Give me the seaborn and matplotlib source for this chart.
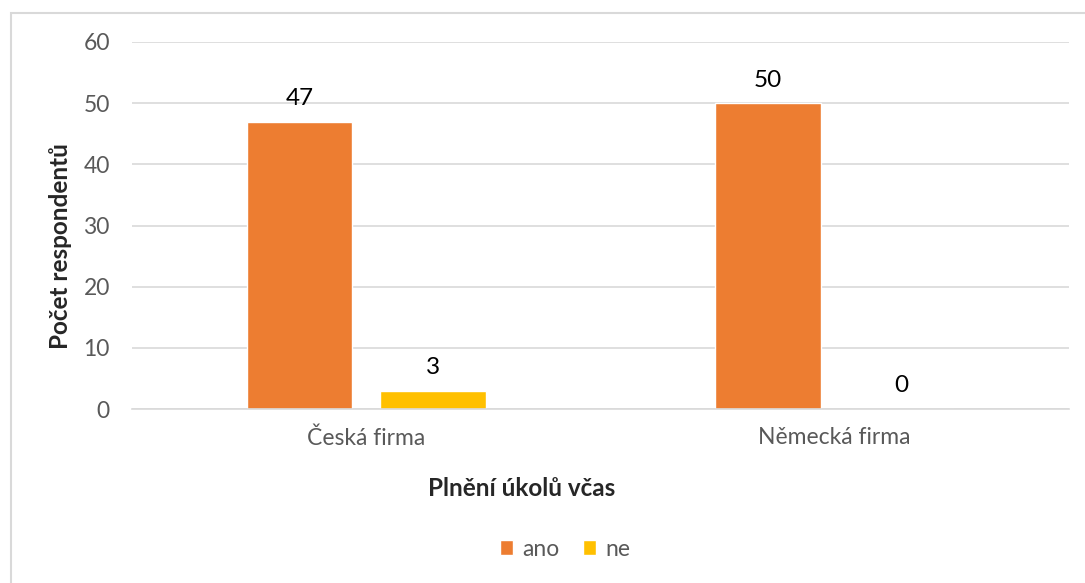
import pandas as pd
import matplotlib.pyplot as plt
import seaborn as sns
from matplotlib.patches import Rectangle

categories = ["Česká firma", "Německá firma"]
series = ["ano", "ne"]
ano_values = [47, 50]
ne_values = [3, 0]
y_ticks = [0, 10, 20, 30, 40, 50, 60]

df = pd.DataFrame({
    "firma": categories * 2,
    "odpoved": [series[0]] * 2 + [series[1]] * 2,
    "pocet": ano_values + ne_values,
})

sns.set_theme(style="white")
plt.rcParams["font.family"] = ["Lato", "DejaVu Sans"]

fig = plt.figure(figsize=(10.85, 5.83), dpi=100)
ax = fig.add_axes([132 / 1085, 1 - 409 / 583, (1069 - 132) / 1085, (409 - 42) / 583])

palette = {"ano": "#ED7D31", "ne": "#FFC000"}
sns.barplot(data=df, x="firma", y="pocet", hue="odpoved", order=categories,
            hue_order=series, palette=palette, width=0.57, gap=0.21,
            saturation=1, ax=ax, legend=True)

for cont in ax.containers:
    ax.bar_label(cont, fmt="%d", padding=9, fontsize=17.5, color="#000000")

ax.set_ylim(0, 60)
ax.set_yticks(y_ticks)
ax.yaxis.grid(True, color="#d9d9d9", linewidth=1.2)
ax.set_axisbelow(True)
for s in ["top", "right", "left"]:
    ax.spines[s].set_visible(False)
ax.spines["bottom"].set_color("#d9d9d9")
ax.spines["bottom"].set_linewidth(1.2)
ax.tick_params(axis="both", length=0, labelsize=16.5, labelcolor="#595959")
ax.tick_params(axis="y", pad=16)
ax.tick_params(axis="x", pad=13)
ax.set_xlabel("")
ax.set_ylabel("")

fig.text(60 / 1085, 1 - 246 / 583, "Počet respondentů", rotation=90,
         ha="center", va="center", fontsize=17.5, fontweight="bold")
fig.text(522 / 1085, 1 - 488 / 583, "Plnění úkolů včas",
         ha="center", va="center", fontsize=17.5, fontweight="bold")

handles, labels = ax.get_legend_handles_labels()
ax.legend(handles, labels, loc="center", bbox_to_anchor=(565 / 1085, 1 - 549 / 583),
          bbox_transform=fig.transFigure, ncol=2, frameon=False, fontsize=16.5,
          handlelength=0.6, handleheight=0.6, handletextpad=0.4, columnspacing=1.0,
          labelcolor="#595959")

fig.patches.append(Rectangle((11 / 1085, -0.05), 1.1, 1 - 13 / 583 + 0.05,
                             transform=fig.transFigure, fill=False,
                             edgecolor="#d9d9d9", linewidth=1.5))

fig.savefig("out.png", dpi=100)
